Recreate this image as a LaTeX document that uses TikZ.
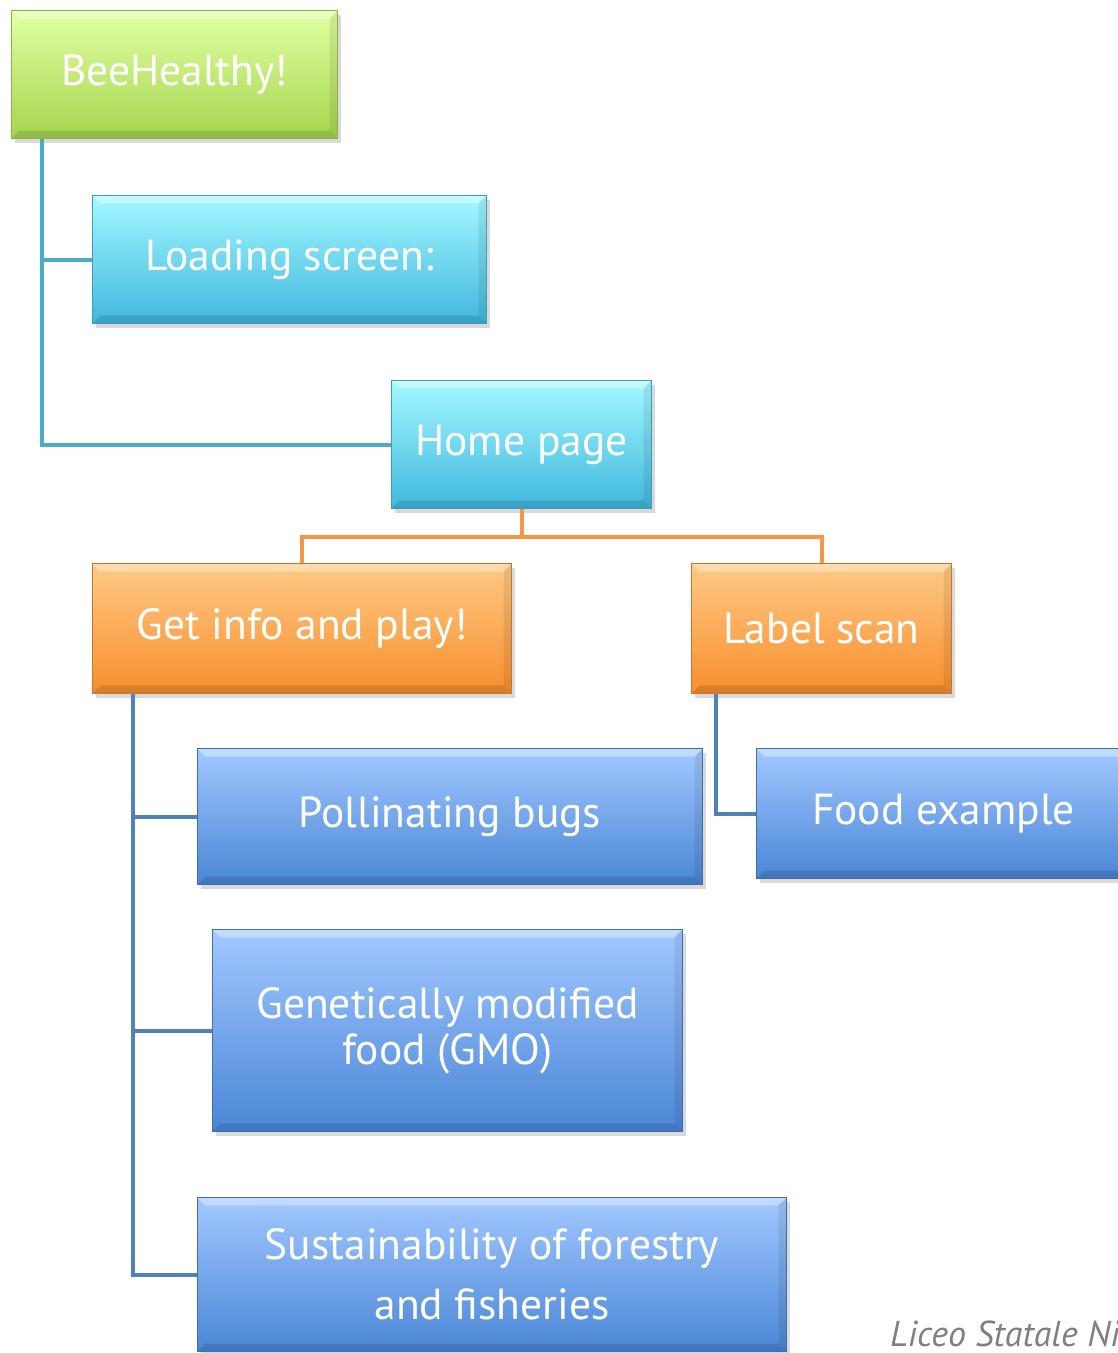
\documentclass[tikz,border=0pt]{standalone}
\usepackage{fontspec}
\setmainfont{PT Sans}
\usetikzlibrary{shadows}

\definecolor{greentop}{HTML}{E2FFA3}
\definecolor{greenbot}{HTML}{A5D64E}
\definecolor{greenrim}{HTML}{8DB040}
\definecolor{cyantop}{HTML}{A3F9FF}
\definecolor{cyanbot}{HTML}{40B7DE}
\definecolor{cyanrim}{HTML}{3A9DBD}
\definecolor{orangetop}{HTML}{FFCA86}
\definecolor{orangebot}{HTML}{F78E2C}
\definecolor{orangerim}{HTML}{C8742A}
\definecolor{bluetop}{HTML}{A2C8FF}
\definecolor{bluebot}{HTML}{4A86D6}
\definecolor{bluerim}{HTML}{3E6EB0}
\definecolor{tealline}{HTML}{4BACC6}
\definecolor{orangeline}{HTML}{F79646}
\definecolor{blueline}{HTML}{4F81BD}

\tikzset{
  box/.style={anchor=north west, inner sep=0pt, text=white, align=center,
    font=\fontsize{43.5}{46}\selectfont, line width=1pt,
    drop shadow={opacity=0.3, shadow xshift=3pt, shadow yshift=-4pt},
    path picture={
      \fill[white,opacity=.35] (path picture bounding box.north west) -- (path picture bounding box.north east)
        -- ([xshift=-8pt,yshift=-8pt]path picture bounding box.north east) -- ([xshift=8pt,yshift=-8pt]path picture bounding box.north west) -- cycle;
      \fill[black,opacity=.12] (path picture bounding box.south west) -- (path picture bounding box.south east)
        -- ([xshift=-8pt,yshift=8pt]path picture bounding box.south east) -- ([xshift=8pt,yshift=8pt]path picture bounding box.south west) -- cycle;
      \fill[black,opacity=.08] (path picture bounding box.north east) -- (path picture bounding box.south east)
        -- ([xshift=-8pt,yshift=8pt]path picture bounding box.south east) -- ([xshift=-8pt,yshift=-8pt]path picture bounding box.north east) -- cycle;}},
  greenbox/.style={box, top color=greentop, bottom color=greenbot, draw=greenrim},
  cyanbox/.style={box, top color=cyantop, bottom color=cyanbot, draw=cyanrim},
  orangebox/.style={box, top color=orangetop, bottom color=orangebot, draw=orangerim},
  bluebox/.style={box, top color=bluetop, bottom color=bluebot, draw=bluerim},
  link/.style={line width=4pt}
}

\begin{document}
\begin{tikzpicture}[x=1pt,y=-1pt]
  \useasboundingbox (0,0) rectangle (1118,1353);
  \clip (0,0) rectangle (1118,1353);

  % boxes
  \node[greenbox, minimum width=326pt, minimum height=128pt] (root) at (11,10) {BeeHealthy!};
  \node[cyanbox, minimum width=394pt, minimum height=128pt] (load) at (92,195) {Loading screen:};
  \node[cyanbox, minimum width=260pt, minimum height=128pt] (home) at (391,380) {Home page};
  \node[orangebox, minimum width=419pt, minimum height=130pt] (info) at (92,563) {Get info and play!};
  \node[orangebox, minimum width=260pt, minimum height=130pt] (scan) at (691,563) {Label scan};
  \node[bluebox, minimum width=505pt, minimum height=136pt] (bugs) at (197,748) {Pollinating bugs};
  \node[bluebox, minimum width=374pt, minimum height=130pt] (food) at (756,748) {Food example};
  \node[bluebox, minimum width=470pt, minimum height=202pt] (gmo) at (212,929) {Genetically modified\\food (GMO)};
  \node[bluebox, minimum width=589pt, minimum height=154pt] (sust) at (197,1197) {Sustainability of forestry\\[14pt]and fisheries};

  % connectors
  \coordinate (rootstem) at ([xshift=31pt]root.south west);
  \draw[link, tealline] (rootstem) |- (home.west);
  \draw[link, tealline] (rootstem |- load.west) -- (load.west);

  \coordinate (homefork) at ([yshift=-28pt]home.south);
  \draw[link, orangeline] (home.south) -- (homefork) -| (info.north);
  \draw[link, orangeline] (homefork) -| (scan.north);

  \coordinate (infostem) at ([xshift=41pt]info.south west);
  \draw[link, blueline] (infostem) |- (sust.west);
  \draw[link, blueline] (infostem |- bugs.west) -- (bugs.west);
  \draw[link, blueline] (infostem |- gmo.west) -- (gmo.west);

  \coordinate (scanstem) at ([xshift=25pt]scan.south west);
  \draw[link, blueline] (scanstem) |- (food.west);

  % footer
  \node[anchor=base west, text=gray, font=\fontsize{36}{40}\selectfont\itshape, inner sep=0pt] (footer) at (890,1346) {Liceo Statale Ni};
\end{tikzpicture}
\end{document}
